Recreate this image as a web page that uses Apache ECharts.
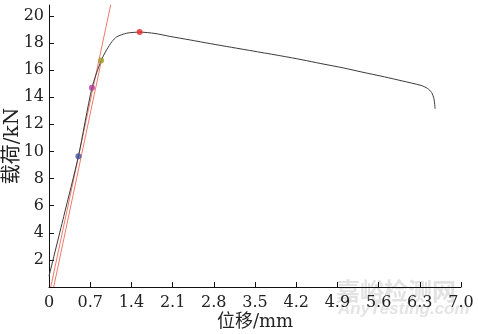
<!DOCTYPE html>
<html>
<head>
<meta charset="utf-8">
<script src="https://cdn.jsdelivr.net/npm/echarts@6/dist/echarts.min.js"></script>
<style>
  html, body { margin: 0; padding: 0; background: #fff; }
  #main { width: 478px; height: 334px; }
</style>
</head>
<body>
<div id="main"></div>
<script>
// load-displacement curve (mm, kN)
const curveX = [0, 0.25, 0.5, 0.73, 0.886, 0.98, 1.07, 1.15, 1.32, 1.54, 1.8, 2.06, 2.4, 2.74, 3.1, 3.5, 3.94, 4.3, 4.62, 5.0, 5.3, 5.7, 6.0, 6.32, 6.43, 6.5, 6.54, 6.56];
const curveY = [0.8, 5.2, 9.65, 14.7, 16.7, 17.5, 18.1, 18.45, 18.72, 18.8, 18.7, 18.48, 18.22, 17.95, 17.68, 17.38, 17.05, 16.76, 16.48, 16.16, 15.87, 15.5, 15.2, 14.87, 14.65, 14.35, 13.9, 13.14];

// two tangent (reference) lines
const line1X = [0.03, 1.05];
const line1Y = [0, 20.85];
const line2X = [0.08, 0.886];
const line2Y = [0, 16.6];

// marked points
const markX = [0.5, 0.73, 0.886, 1.54];
const markY = [9.65, 14.7, 16.7, 18.8];
const markColors = ['#3f4f9f', '#b03c9c', '#a39a22', '#e82828'];

const xTicks = { min: 0, max: 7, step: 0.7 };
const yTicks = { min: 0, max: 20.8, step: 2 };

const zip = (xs, ys) => xs.map((x, i) => [x, ys[i]]);

const chart = echarts.init(document.getElementById('main'));
const font = "'DejaVu Serif', 'Noto Sans CJK SC', serif";

chart.setOption({
    animation: false,
    backgroundColor: '#fff',
    grid: { left: 49, right: 17, top: 5, bottom: 47, containLabel: false, outerBoundsMode: 'none' },
    xAxis: {
        type: 'value',
        min: xTicks.min,
        max: xTicks.max,
        interval: xTicks.step,
        name: '位移/mm',
        nameLocation: 'middle',
        nameGap: 26,
        nameMoveOverlap: false,
        nameTextStyle: { fontFamily: font, fontSize: 18, color: '#222' },
        axisLine: { lineStyle: { color: '#111', width: 1 } },
        axisTick: { inside: true, length: 5, lineStyle: { color: '#111' } },
        axisLabel: {
            fontFamily: font, fontSize: 16, color: '#222', margin: 8,
            formatter: v => (v === 0 ? '0' : v.toFixed(1))
        },
        splitLine: { show: false }
    },
    yAxis: {
        type: 'value',
        min: yTicks.min,
        max: yTicks.max,
        interval: yTicks.step,
        name: '载荷/kN',
        nameLocation: 'middle',
        nameGap: 26,
        nameMoveOverlap: false,
        nameTextStyle: { fontFamily: font, fontSize: 20, color: '#222' },
        axisLine: { show: true, lineStyle: { color: '#111', width: 1 } },
        axisTick: { show: true, inside: true, length: 5, lineStyle: { color: '#111' } },
        axisLabel: {
            fontFamily: font, fontSize: 16, color: '#222', margin: 5,
            showMinLabel: false, showMaxLabel: false,
            formatter: v => (Number.isInteger(v) ? String(v) : '')
        },
        splitLine: { show: false }
    },
    graphic: [
        {
            type: 'text', left: 336, top: 279, z: -1,
            style: { text: '嘉峪检测网', fontFamily: "'Noto Sans CJK SC'", fontSize: 24, fontWeight: 'bold', fill: '#e2e2e2' }
        },
        {
            type: 'text', left: 338, top: 301, z: -1,
            style: { text: 'AnyTesting.com', fontFamily: 'Arial, Liberation Sans', fontSize: 17, fontStyle: 'italic', fontWeight: 'bold', fill: '#e4e4e4' }
        }
    ],
    series: [
        {
            type: 'line', data: zip(line1X, line1Y), showSymbol: false, silent: true,
            lineStyle: { color: '#ee7a6c', width: 1 }
        },
        {
            type: 'line', data: zip(line2X, line2Y), showSymbol: false, silent: true,
            lineStyle: { color: '#ee7a6c', width: 1 }
        },
        {
            type: 'line', data: zip(curveX, curveY), showSymbol: false,
            smooth: 0.25,
            lineStyle: { color: '#3a3a3a', width: 1 }
        },
        {
            type: 'scatter', symbolSize: 6, z: 5,
            data: markX.map((x, i) => ({ value: [x, markY[i]], itemStyle: { color: markColors[i] } }))
        }
    ]
});
</script>
</body>
</html>
